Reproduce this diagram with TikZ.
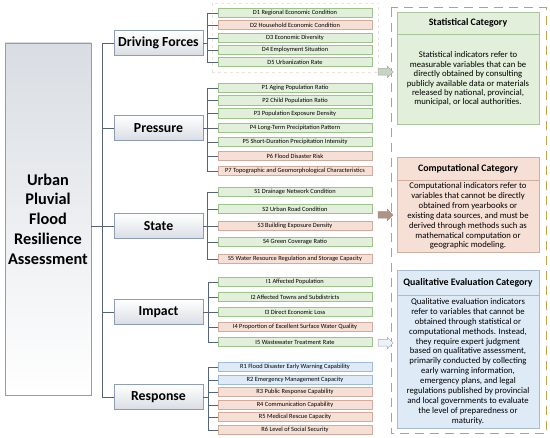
\documentclass[tikz,border=0pt]{standalone}
\usepackage{fontspec}
\setmainfont{Carlito}
\usetikzlibrary{shapes,arrows,positioning,fit}

\definecolor{connline}{HTML}{56647A}
\definecolor{catline}{HTML}{8C9DB5}
\definecolor{catgray}{HTML}{D9DDE3}
\definecolor{grnfill}{HTML}{E2EFDA}
\definecolor{grnline}{HTML}{9CC38A}
\definecolor{tanfill}{HTML}{F6E0D6}
\definecolor{tanline}{HTML}{D2AB9C}
\definecolor{blufill}{HTML}{DEEBF7}
\definecolor{bluline}{HTML}{9DBCDA}
\definecolor{pangrn}{HTML}{A7C79A}
\definecolor{pantan}{HTML}{CDAE9F}
\definecolor{panblu}{HTML}{A9BCCF}
\definecolor{framecol}{HTML}{C8A24B}

\tikzset{
  mainbox/.style={draw=catline, top color=catgray, bottom color=white, minimum width=86pt,
    minimum height=352pt, inner sep=0pt, align=center, font=\bfseries\fontsize{16.3}{19.7}\selectfont},
  catbox/.style={draw=catline, top color=white, bottom color=catgray, minimum width=89pt,
    minimum height=25pt, inner sep=0pt, font=\bfseries\fontsize{13.8}{14}\selectfont},
  indbox/.style={minimum width=154pt, minimum height=9.5pt, inner sep=0pt, line width=0.5pt,
    font=\fontsize{6.4}{7}\selectfont},
  indg/.style={indbox, draw=grnline, fill=grnfill},
  indt/.style={indbox, draw=tanline, fill=tanfill},
  indb/.style={indbox, draw=bluline, fill=blufill},
  conn/.style={draw=connline, line width=0.7pt},
  phead/.style={minimum width=142pt, inner sep=0pt, outer sep=0pt, line width=0.5pt,
    font=\bfseries\fontsize{9.9}{11}\selectfont},
  pbody/.style={minimum width=142pt, inner sep=0pt, outer sep=0pt, line width=0.5pt,
    align=center, font=\fontsize{8.7}{9.9}\selectfont},
  blockarr/.style={shape=single arrow, minimum height=15pt, minimum width=11pt,
    single arrow head extend=2.5pt, inner sep=3pt, line width=0.5pt},
}

\begin{document}
\begin{tikzpicture}[x=1pt,y=-1pt]
\useasboundingbox (0,0) rectangle (550,438);
%-------->main and categories<--------------
\node[mainbox] (main) at (48,219) {Urban\\Pluvial\\Flood\\Resilience\\Assessment};
\node[catbox] (df) at (158.5,43) {Driving Forces};
\node[catbox] (pr) at (158.5,128) {Pressure};
\node[catbox] (st) at (158.5,226) {State};
\node[catbox] (im) at (158.5,312) {Impact};
\node[catbox] (re) at (158.5,397) {Response};
%-------->driving forces<--------------
\node[indg] (d1) at (295,13) {D1 Regional Economic Condition};
\node[indt] (d2) at (295,25) {D2 Household Economic Condition};
\node[indg] (d3) at (295,38) {D3 Economic Diversity};
\node[indg] (d4) at (295,50) {D4 Employment Situation};
\node[indg] (d5) at (295,62) {D5 Urbanization Rate};
\node[draw=tanline!35, dashed, fit=(d1)(d5), inner xsep=6pt, inner ysep=5pt] (dgrp) {};
%-------->pressure<--------------
\node[indg] (p1) at (295,88) {P1 Aging Population Ratio};
\node[indg] (p2) at (295,100.5) {P2 Child Population Ratio};
\node[indg] (p3) at (295,113.5) {P3 Population Exposure Density};
\node[indg] (p4) at (295,128) {P4 Long-Term Precipitation Pattern};
\node[indg] (p5) at (295,142) {P5 Short-Duration Precipitation Intensity};
\node[indt] (p6) at (295,156) {P6 Flood Disaster Risk};
\node[indt] (p7) at (295,171) {P7 Topographic and Geomorphological Characteristics};
%-------->state<--------------
\node[indg] (s1) at (295,192) {S1 Drainage Network Condition};
\node[indg] (s2) at (295,209) {S2 Urban Road Condition};
\node[indt] (s3) at (295,226) {S3 Building Exposure Density};
\node[indg] (s4) at (295,242) {S4 Green Coverage Ratio};
\node[indt] (s5) at (295,259) {S5 Water Resource Regulation and Storage Capacity};
%-------->impact<--------------
\node[indg] (i1) at (295,282) {I1 Affected Population};
\node[indg] (i2) at (295,297) {I2 Affected Towns and Subdistricts};
\node[indg] (i3) at (295,312) {I3 Direct Economic Loss};
\node[indt] (i4) at (295,327) {I4 Proportion of Excellent Surface Water Quality};
\node[indg] (i5) at (295,342) {I5 Wastewater Treatment Rate};
%-------->response<--------------
\node[indb] (r1) at (295,367) {R1 Flood Disaster Early Warning Capability};
\node[indb] (r2) at (295,380) {R2 Emergency Management Capacity};
\node[indt] (r3) at (295,392) {R3 Public Response Capability};
\node[indt] (r4) at (295,405) {R4 Communication Capability};
\node[indt] (r5) at (295,417) {R5 Medical Rescue Capacity};
\node[indt] (r6) at (295,430) {R6 Level of Social Security};
%------------->trunk<------------------
\draw[conn] (df.west) -- ++(-11,0) |- (re.west);
\draw[conn] (pr.west) -- ++(-11,0);
\draw[conn] (im.west) -- ++(-11,0);
\draw[conn] (st.west) -- (main.east |- st.west);
%------------->brackets<------------------
\draw[conn] (df.east) -- ++(4,0) coordinate (dfj) |- (d1.west) (dfj) |- (d2.west)
  (dfj) |- (d3.west) (dfj) |- (d4.west) (dfj) |- (d5.west);
\draw[conn] (pr.east) -- ++(4,0) coordinate (prj) |- (p1.west) (prj) |- (p2.west)
  (prj) |- (p3.west) (prj) |- (p4.west) (prj) |- (p5.west) (prj) |- (p6.west) (prj) |- (p7.west);
\draw[conn] (st.east) -- ++(4,0) coordinate (stj) |- (s1.west) (stj) |- (s2.west)
  (stj) |- (s3.west) (stj) |- (s4.west) (stj) |- (s5.west);
\draw[conn] (im.east) -- ++(5,0) coordinate (imj) |- (i1.west) (imj) |- (i2.west)
  (imj) |- (i3.west) (imj) |- (i4.west) (imj) |- (i5.west);
\draw[conn] (re.east) -- ++(5,0) coordinate (rej) |- (r1.west) (rej) |- (r2.west)
  (rej) |- (r3.west) (rej) |- (r4.west) (rej) |- (r5.west) (rej) |- (r6.west);
%-----------> category panels <---------------
\draw[framecol, line width=1pt, dash pattern=on 9pt off 6pt] (391,8) rectangle (546,434);
\node[phead, draw=pangrn, fill=grnfill, minimum height=22pt, anchor=north] (sth) at (468,12) {Statistical Category};
\node[pbody, draw=pangrn, fill=grnfill, minimum height=90pt, below=0pt of sth,
  font=\fontsize{8.7}{9.4}\selectfont] (stb)
  {Statistical indicators refer to\\measurable variables that can be\\directly obtained by consulting\\
   publicly available data or materials\\released by national, provincial,\\municipal, or local authorities.};
\node[phead, draw=pantan, fill=tanfill, minimum height=23pt, anchor=north] (coh) at (468,157) {Computational Category};
\node[pbody, draw=pantan, fill=tanfill, minimum height=72pt, below=0pt of coh] (cob)
  {Computational indicators refer to\\variables that cannot be directly\\obtained from yearbooks or\\
   existing data sources, and must be\\derived through methods such as\\mathematical computation or\\geographic modeling.};
\node[phead, draw=panblu, fill=blufill, minimum height=25pt, anchor=north] (quh) at (468,270) {Qualitative Evaluation Category};
\node[pbody, draw=panblu, fill=blufill, minimum height=133pt, below=0pt of quh] (qub)
  {Qualitative evaluation indicators\\refer to variables that cannot be\\obtained through statistical or\\
   computational methods. Instead,\\they require expert judgment\\based on qualitative assessment,\\
   primarily conducted by collecting\\early warning information,\\emergency plans, and legal\\
   regulations published by provincial\\and local governments to evaluate\\the level of preparedness or\\maturity.};
%-------------> block arrows <-----------------
\node[blockarr, draw=gray!70, fill=gray!25!grnfill] (arrs) at (384,72) {};
\node[blockarr, draw=pantan!80!black, fill=pantan!85!black] (arrc) at (384,215) {};
\node[blockarr, draw=gray!70, fill=blufill!60!white] (arrq) at (384,343) {};
\end{tikzpicture}
\end{document}
